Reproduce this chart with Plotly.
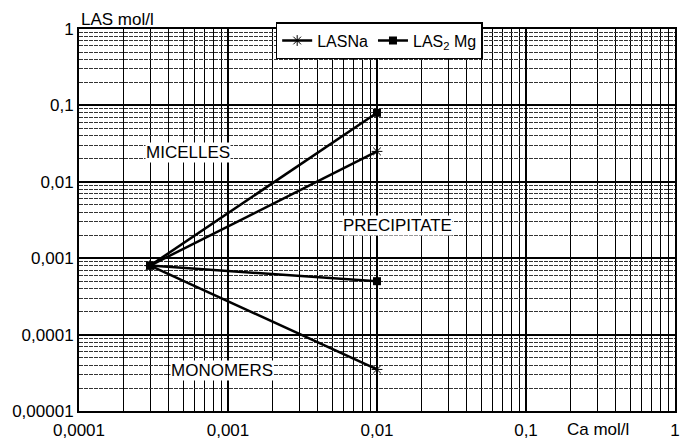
import numpy as np
import plotly.graph_objects as go

# Ca concentration (mol/l) and LAS concentration (mol/l)
ca_start = 0.0003
ca_end = 0.01
las_start = 0.0008

# LASNa: micelle boundary and monomer boundary
na_x = [ca_start, ca_end, None, ca_start, ca_end]
na_y = [las_start, 0.025, None, las_start, 0.000035]

# LAS2Mg: micelle boundary and precipitate boundary
mg_x = [ca_start, ca_end, None, ca_start, ca_end]
mg_y = [las_start, 0.08, None, las_start, 0.0005]

x_tickvals = [0.0001, 0.001, 0.01, 0.1, 1]
x_ticktext = ["0,0001", "0,001", "0,01", "0,1", "1"]
y_tickvals = [0.00001, 0.0001, 0.001, 0.01, 0.1, 1]
y_ticktext = ["0,00001", "0,0001", "0,001", "0,01", "0,1", "1"]

region_labels = ["MICELLES", "PRECIPITATE", "MONOMERS"]
region_x = [0.00054, 0.0138, 0.00091]
region_y = [0.0245, 0.0027, 0.000034]

FONT = "Liberation Sans, Arial, sans-serif"


def minor_vals(lo_exp, hi_exp):
    vals = []
    for e in range(lo_exp, hi_exp):
        for k in range(2, 10):
            vals.append(k * 10.0 ** e)
    return vals


fig = go.Figure()
fig.add_trace(go.Scatter(
    x=na_x, y=na_y, mode="lines+markers", name="LASNa",
    line=dict(color="black", width=2.5),
    marker=dict(symbol="asterisk-open", size=9, color="black",
                line=dict(color="black", width=1)),
))
fig.add_trace(go.Scatter(
    x=mg_x, y=mg_y, mode="lines+markers", name="LAS<sub>2</sub> Mg",
    line=dict(color="black", width=2.5),
    marker=dict(symbol="square", size=8, color="black"),
))

for txt, xv, yv in zip(region_labels, region_x, region_y):
    fig.add_annotation(
        x=np.log10(xv), y=np.log10(yv), text=txt, showarrow=False,
        font=dict(family=FONT, size=17, color="black"),
        bgcolor="white", borderpad=0,
    )

fig.add_annotation(x=0, y=1, xref="paper", yref="paper", text="LAS mol/l",
                   showarrow=False, xanchor="left", yanchor="bottom", yshift=-2,
                   font=dict(family=FONT, size=17, color="black"))
fig.add_annotation(x=0.87, y=0, xref="paper", yref="paper", text="Ca mol/l",
                   showarrow=False, xanchor="center", yanchor="top", yshift=-7,
                   font=dict(family=FONT, size=17, color="black"))

axis_common = dict(
    type="log", showline=True, linecolor="black", linewidth=2, mirror=True,
    showgrid=True, gridcolor="black", gridwidth=1.6,
    ticks="", zeroline=False, automargin=False,
    tickfont=dict(family=FONT, size=17, color="black"),
)

fig.update_xaxes(
    range=[-4, 0], tickvals=x_tickvals, ticktext=x_ticktext,
    ticklabelstandoff=3,
    minor=dict(tickvals=minor_vals(-4, 0), showgrid=True,
               gridcolor="black", gridwidth=1.1),
    **axis_common,
)
fig.update_yaxes(
    range=[-5, 0], tickvals=y_tickvals, ticktext=y_ticktext,
    minor=dict(tickvals=minor_vals(-5, 0), showgrid=True,
               gridcolor="#333", gridwidth=1, griddash="4px,1px"),
    **axis_common,
)

fig.update_layout(
    width=680, height=439,
    margin=dict(l=79, r=5, t=29, b=28, autoexpand=False),
    paper_bgcolor="white", plot_bgcolor="white",
    showlegend=True,
    legend=dict(
        orientation="h", x=0.33, y=1.018, xanchor="left", yanchor="top",
        bgcolor="white", bordercolor="black", borderwidth=1.5,
        font=dict(family=FONT, size=16, color="black"),
        itemwidth=30, tracegroupgap=0,
    ),
    font=dict(family=FONT, color="black"),
)

fig.write_html("out.html")
